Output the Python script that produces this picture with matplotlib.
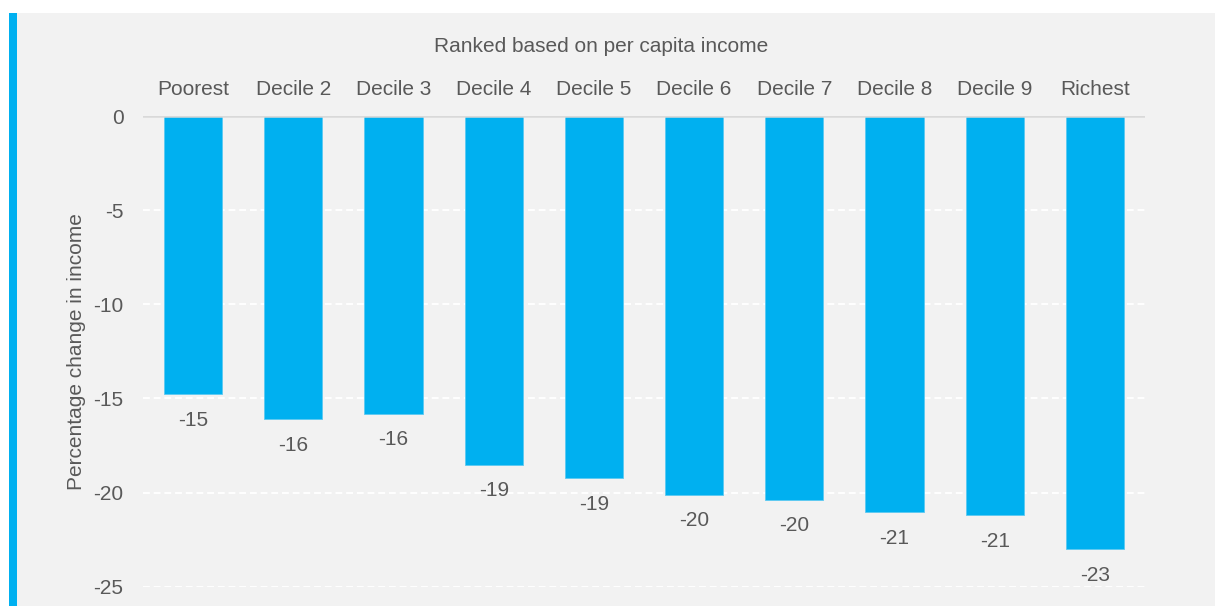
import matplotlib
matplotlib.use("Agg")
import matplotlib.pyplot as plt
from matplotlib.patches import Rectangle
import numpy as np

plt.rcParams["font.family"] = ["Liberation Sans", "DejaVu Sans"]

# income change by decile (per capita income ranking)
deciles = ["Poorest", "Decile 2", "Decile 3", "Decile 4", "Decile 5",
           "Decile 6", "Decile 7", "Decile 8", "Decile 9", "Richest"]
pct_change = [-14.78, -16.09, -15.81, -18.52, -19.22,
              -20.11, -20.37, -21.04, -21.20, -22.99]
y_ticks = [0, -5, -10, -15, -20, -25]

W, H = 1215, 606
bg = "#f2f2f2"
blue = "#00b0f0"
txt = "#595959"
fs = 15

fig = plt.figure(figsize=(W / 100, H / 100), dpi=100, facecolor="white")

# grey panel with blue accent strip on the left
fig.add_artist(Rectangle((9 / W, 0), 1 - 9 / W, (H - 13) / H,
                         transform=fig.transFigure, facecolor=bg,
                         edgecolor="none", zorder=-2))
fig.add_artist(Rectangle((9 / W, 0), 8 / W, (H - 13) / H,
                         transform=fig.transFigure, facecolor=blue,
                         edgecolor="none", zorder=-1))

ax = fig.add_axes([143 / W, 1 - 586.7 / H, (1145 - 143) / W, (586.7 - 116) / H])
ax.set_facecolor("none")
ax.set_zorder(2)

x = np.arange(len(deciles))
bars = ax.bar(x, pct_change, width=0.58, color=blue, edgecolor="#5cc9f2",
              linewidth=0.6, zorder=3)

for xi, v in zip(x, pct_change):
    ax.annotate(f"{v:.0f}", (xi, v), xytext=(0, -12), textcoords="offset points",
                ha="center", va="top", fontsize=fs, color=txt)

ax.set_xlim(-0.5, len(deciles) - 0.5)
ax.set_ylim(-25, 0)
ax.set_yticks(y_ticks)
ax.set_yticklabels([str(t) for t in y_ticks])

ax.xaxis.tick_top()
ax.set_xticks(x)
ax.set_xticklabels(deciles)
ax.tick_params(axis="x", length=0, pad=12.5, labelsize=fs, labelcolor=txt)
ax.tick_params(axis="y", length=0, pad=14, labelsize=fs, labelcolor=txt)

for t in y_ticks[1:]:
    ax.axhline(t, color="white", linestyle=(0, (3.5, 2)), linewidth=1.4, zorder=1)
ax.axhline(0, color="#d9d9d9", linewidth=1.8, zorder=4)

for s in ax.spines.values():
    s.set_visible(False)

ax.set_ylabel("Percentage change in income", fontsize=fs, color=txt, labelpad=5)

fig.text(601 / W, 1 - 46 / H, "Ranked based on per capita income",
         ha="center", va="center", fontsize=fs, color=txt)

fig.savefig("out.png", dpi=100, facecolor="white")
